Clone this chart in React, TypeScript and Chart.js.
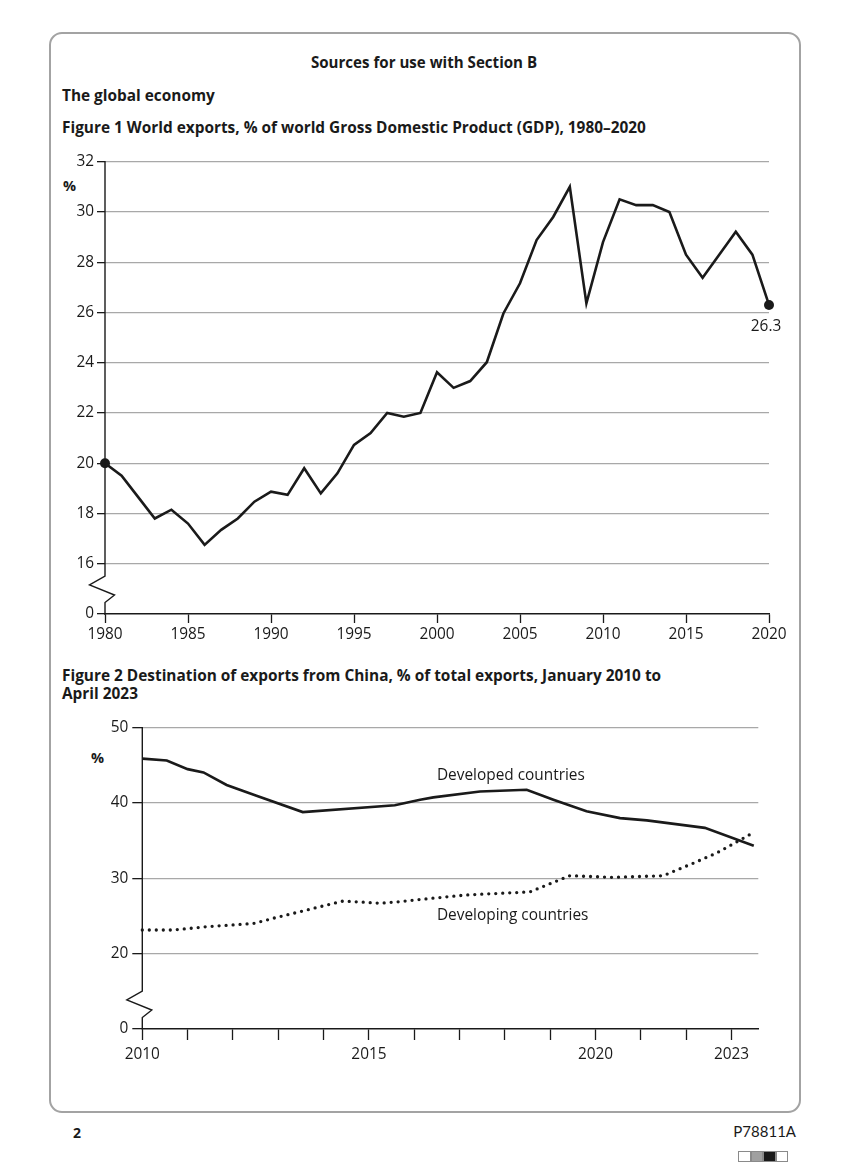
import React, { useEffect, useRef } from "react";
import { Chart, registerables } from "chart.js";

Chart.register(...registerables);

const FONT = "'Open Sans', Lato, sans-serif";
const FONT_ALT = "Lato, 'Open Sans', sans-serif";
const INK = "#1a1a1a";
const GRID = "#a8a8a8";
const TICK_SIZE = 15.4;
const LABEL_SIZE = 15.4;
const TITLE_SIZE = 15.4;

// ---------- Figure 1: World exports, % of world GDP ----------
const fig1Years = [
  1980, 1981, 1982, 1983, 1984, 1985, 1986, 1987, 1988, 1989,
  1990, 1991, 1992, 1993, 1994, 1995, 1996, 1997, 1998, 1999,
  2000, 2001, 2002, 2003, 2004, 2005, 2006, 2007, 2008, 2009,
  2010, 2011, 2012, 2013, 2014, 2015, 2016, 2017, 2018, 2019, 2020,
];
const fig1Values = [
  20.0, 19.5, 18.65, 17.8, 18.15, 17.6, 16.75, 17.35, 17.8, 18.47,
  18.87, 18.74, 19.8, 18.8, 19.6, 20.73, 21.2, 22.0, 21.85, 22.0,
  23.62, 23.0, 23.27, 24.02, 25.96, 27.16, 28.88, 29.8, 31.0, 26.36,
  28.8, 30.5, 30.27, 30.27, 30.0, 28.3, 27.38, 28.3, 29.21, 28.3, 26.3,
];
const fig1YTicks = [14, 16, 18, 20, 22, 24, 26, 28, 30, 32];
const fig1YTickLabels = ["0", "16", "18", "20", "22", "24", "26", "28", "30", "32"];
const fig1XTicks = [1980, 1985, 1990, 1995, 2000, 2005, 2010, 2015, 2020];
const fig1EndLabel = "26.3";

// ---------- Figure 2: Destination of exports from China ----------
const developedX = [
  2010.0, 2010.54, 2011.0, 2011.35, 2011.86, 2012.52, 2013.54, 2015.57, 2016.13,
  2016.42, 2017.45, 2018.48, 2019.07, 2019.8, 2020.54, 2021.13, 2022.41, 2023.49,
];
const developedY = [
  45.9, 45.65, 44.5, 44.07, 42.4, 40.97, 38.8, 39.7, 40.44,
  40.75, 41.54, 41.77, 40.44, 38.9, 38.0, 37.7, 36.7, 34.33,
];
const developingX = [
  2010.0, 2010.68, 2011.42, 2012.45, 2012.89, 2013.63, 2014.43, 2015.24, 2015.68, 2016.13,
  2017.16, 2018.55, 2019.0, 2019.43, 2020.39, 2021.49, 2022.15, 2022.67, 2023.49,
];
const developingY = [
  23.14, 23.14, 23.58, 24.0, 24.7, 25.8, 26.99, 26.7, 26.9, 27.2,
  27.8, 28.2, 29.3, 30.35, 30.13, 30.35, 32.0, 33.36, 36.1,
];
const fig2XTicks = [2010, 2011, 2012, 2013, 2014, 2015, 2016, 2017, 2018, 2019, 2020, 2021, 2022, 2023];
const fig2XLabelled = [2010, 2015, 2020, 2023];
const fig2YTicks = [10, 20, 30, 40, 50];
const fig2YTickLabels = ["0", "20", "30", "40", "50"];
const fig2SeriesNames = ["Developed countries", "Developing countries"];

const tickFont = { family: FONT, size: TICK_SIZE };

// draws the y axis line with a zig-zag break just above the zero tick
const axisBreakPlugin = {
  id: "axisBreak",
  afterDraw(chart: any) {
    const { ctx, chartArea } = chart;
    const x0 = chartArea.left;
    const b = chartArea.bottom;
    ctx.save();
    ctx.strokeStyle = INK;
    ctx.lineWidth = 1.4;
    ctx.lineJoin = "miter";
    ctx.beginPath();
    ctx.moveTo(x0, chartArea.top - 0.7);
    ctx.lineTo(x0, b - 38);
    ctx.lineTo(x0 - 15.5, b - 29);
    ctx.lineTo(x0 + 9.5, b - 19);
    ctx.lineTo(x0, b - 11.5);
    ctx.lineTo(x0, b + 0.7);
    ctx.stroke();
    ctx.restore();
  },
};

function yGrid(breakValue: number, tickLength: number) {
  return {
    color: (c: any) => (c.tick && c.tick.value === breakValue ? "rgba(0,0,0,0)" : GRID),
    lineWidth: 1.3,
    tickColor: INK,
    tickWidth: 1.3,
    tickLength,
    drawTicks: true,
  };
}

function Figure1() {
  const ref = useRef<HTMLCanvasElement>(null);
  useEffect(() => {
    if (!ref.current) return;
    const endLabelPlugin = {
      id: "endLabel",
      afterDatasetsDraw(chart: any) {
        const { ctx } = chart;
        const xs = chart.scales.x;
        const ys = chart.scales.y;
        const i = fig1Values.length - 1;
        const px = xs.getPixelForValue(fig1Years[i]);
        const py = ys.getPixelForValue(fig1Values[i]);
        ctx.save();
        ctx.fillStyle = INK;
        ctx.font = `${LABEL_SIZE}px ${FONT}`;
        ctx.textAlign = "center";
        ctx.textBaseline = "middle";
        ctx.fillText(fig1EndLabel, px - 3, py + 22);
        ctx.restore();
      },
    };
    const last = fig1Values.length - 1;
    const chart = new Chart(ref.current, {
      type: "line",
      data: {
        datasets: [
          {
            data: fig1Years.map((yr, i) => ({ x: yr, y: fig1Values[i] })),
            borderColor: INK,
            backgroundColor: INK,
            borderWidth: 2.6,
            tension: 0,
            clip: false as any,
            pointRadius: (c: any) => (c.dataIndex === 0 || c.dataIndex === last ? 5 : 0),
            pointBorderWidth: 0,
            borderJoinStyle: "miter",
          },
        ],
      },
      options: {
        animation: false,
        responsive: false,
        maintainAspectRatio: false,
        events: [],
        layout: { padding: { left: 0, right: 81, top: 21.7, bottom: 10 } },
        plugins: { legend: { display: false }, tooltip: { enabled: false } },
        scales: {
          x: {
            type: "linear",
            min: 1980,
            max: 2020,
            afterBuildTicks: (s: any) => {
              s.ticks = fig1XTicks.map((v) => ({ value: v }));
            },
            afterFit: (s: any) => {
              s.height = 36;
            },
            ticks: {
              font: tickFont,
              color: INK,
              padding: 2,
              maxRotation: 0,
              autoSkip: false,
              callback: (v: any) => String(v),
            },
            grid: { drawOnChartArea: false, drawTicks: true, tickLength: 9, tickColor: INK, tickWidth: 1.3 },
            border: { display: true, color: INK, width: 1.4 },
          },
          y: {
            type: "linear",
            min: 14,
            max: 32,
            afterBuildTicks: (s: any) => {
              s.ticks = fig1YTicks.map((v) => ({ value: v }));
            },
            afterFit: (s: any) => {
              s.width = 105;
            },
            ticks: {
              font: tickFont,
              color: INK,
              padding: 3,
              autoSkip: false,
              callback: (v: any) => fig1YTickLabels[fig1YTicks.indexOf(v)],
            },
            grid: yGrid(14, 8) as any,
            border: { display: false },
          },
        },
      },
      plugins: [axisBreakPlugin, endLabelPlugin],
    });
    return () => chart.destroy();
  }, []);
  return (
    <canvas
      ref={ref}
      width={850}
      height={520}
      style={{ position: "absolute", left: 0, top: 140, width: 850, height: 520 }}
    />
  );
}

function Figure2() {
  const ref = useRef<HTMLCanvasElement>(null);
  useEffect(() => {
    if (!ref.current) return;
    const seriesLabelPlugin = {
      id: "seriesLabels",
      afterDatasetsDraw(chart: any) {
        const { ctx } = chart;
        const xs = chart.scales.x;
        const ys = chart.scales.y;
        ctx.save();
        ctx.fillStyle = INK;
        ctx.font = `${LABEL_SIZE}px ${FONT}`;
        ctx.textAlign = "left";
        ctx.textBaseline = "middle";
        ctx.fillText(fig2SeriesNames[0], xs.getPixelForValue(2016.5), ys.getPixelForValue(43.6));
        ctx.fillText(fig2SeriesNames[1], xs.getPixelForValue(2016.5), ys.getPixelForValue(25.1));
        ctx.restore();
      },
    };
    const chart = new Chart(ref.current, {
      type: "line",
      data: {
        datasets: [
          {
            label: fig2SeriesNames[0],
            data: developedX.map((x, i) => ({ x, y: developedY[i] })),
            borderColor: INK,
            borderWidth: 2.6,
            tension: 0,
            pointRadius: 0,
            clip: false as any,
          },
          {
            label: fig2SeriesNames[1],
            data: developingX.map((x, i) => ({ x, y: developingY[i] })),
            borderColor: INK,
            borderWidth: 3.3,
            borderDash: [0, 7],
            borderCapStyle: "round",
            tension: 0,
            pointRadius: 0,
            clip: false as any,
          },
        ],
      },
      options: {
        animation: false,
        responsive: false,
        maintainAspectRatio: false,
        events: [],
        layout: { padding: { left: 0, right: 91.7, top: 22.7, bottom: 16 } },
        plugins: { legend: { display: false }, tooltip: { enabled: false } },
        scales: {
          x: {
            type: "linear",
            min: 2010,
            max: 2023.59,
            afterBuildTicks: (s: any) => {
              s.ticks = fig2XTicks.map((v) => ({ value: v }));
            },
            afterFit: (s: any) => {
              s.height = 40;
            },
            ticks: {
              font: tickFont,
              color: INK,
              padding: 5,
              maxRotation: 0,
              autoSkip: false,
              callback: (v: any) => (fig2XLabelled.includes(v) ? String(v) : ""),
            },
            grid: { drawOnChartArea: false, drawTicks: true, tickLength: 11, tickColor: INK, tickWidth: 1.3 },
            border: { display: true, color: INK, width: 1.4 },
          },
          y: {
            type: "linear",
            min: 10,
            max: 50,
            afterBuildTicks: (s: any) => {
              s.ticks = fig2YTicks.map((v) => ({ value: v }));
            },
            afterFit: (s: any) => {
              s.width = 142.3;
            },
            ticks: {
              font: tickFont,
              color: INK,
              padding: 4,
              autoSkip: false,
              callback: (v: any) => fig2YTickLabels[fig2YTicks.indexOf(v)],
            },
            grid: yGrid(10, 10) as any,
            border: { display: false },
          },
        },
      },
      plugins: [axisBreakPlugin, seriesLabelPlugin],
    });
    return () => chart.destroy();
  }, []);
  return (
    <canvas
      ref={ref}
      width={850}
      height={380}
      style={{ position: "absolute", left: 0, top: 705, width: 850, height: 380 }}
    />
  );
}

function Text(props: {
  x: number;
  y: number;
  size?: number;
  bold?: boolean;
  family?: string;
  align?: "left" | "center" | "right";
  children: React.ReactNode;
}) {
  const size = props.size ?? TITLE_SIZE;
  const lh = Math.round(size * 1.2);
  const style: React.CSSProperties = {
    position: "absolute",
    top: props.y - lh / 2,
    lineHeight: `${lh}px`,
    fontSize: size,
    fontFamily: props.family ?? FONT,
    fontWeight: props.bold ? 700 : 400,
    whiteSpace: "nowrap",
    color: INK,
  };
  if (props.align === "center") {
    style.left = props.x;
    style.transform = "translateX(-50%)";
  } else if (props.align === "right") {
    style.right = 850 - props.x;
  } else {
    style.left = props.x;
  }
  return <div style={style}>{props.children}</div>;
}

export default function App() {
  return (
    <div
      style={{
        position: "absolute",
        left: 0,
        top: 0,
        width: 850,
        height: 1170,
        background: "#fff",
        fontFamily: FONT,
        overflow: "hidden",
      }}
    >
      <div
        style={{
          position: "absolute",
          left: 49,
          top: 32,
          width: 752,
          height: 1081,
          border: "2px solid #a3a3a3",
          borderRadius: 13,
          boxSizing: "border-box",
        }}
      />
      <Text x={424} y={62} bold size={15.1} align="center">Sources for use with Section B</Text>
      <Text x={62} y={96} bold>The global economy</Text>
      <Text x={62} y={128} bold>Figure 1 World exports, % of world Gross Domestic Product (GDP), 1980–2020</Text>
      <Text x={63} y={185} bold size={14.5}>%</Text>
      <Text x={62} y={676} bold>Figure 2 Destination of exports from China, % of total exports, January 2010 to</Text>
      <Text x={62} y={694} bold>April 2023</Text>
      <Text x={91} y={757} bold size={14.5}>%</Text>
      <Figure1 />
      <Figure2 />
      <Text x={73} y={1132} bold size={14}>2</Text>
      <Text x={796} y={1131} size={15} family={FONT_ALT} align="right">P78811A</Text>
      <div style={{ position: "absolute", left: 738, top: 1151, display: "flex" }}>
        {["#fff", "#a0a0a0", "#1a1a1a", "#fff"].map((c, i) => (
          <div
            key={i}
            style={{
              width: 12.5,
              height: 11,
              background: c,
              border: "1px solid #8a8a8a",
              boxSizing: "border-box",
            }}
          />
        ))}
      </div>
    </div>
  );
}
